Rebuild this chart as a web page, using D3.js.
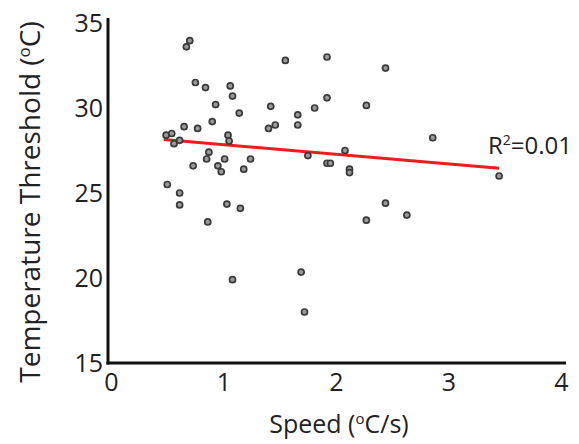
<!DOCTYPE html>
<html lang="en">
<head>
  <meta charset="UTF-8">
  <title>Speed vs Temperature Threshold</title>
  <script src="https://d3js.org/d3.v7.min.js"></script>
  <style>
    * { margin: 0; padding: 0; box-sizing: border-box; }
    body { background: white; font-family: "Open Sans", sans-serif; }
  </style>
</head>
<body>
  <div id="chart"></div>
  <script>
    // data
    const speed = [0.70, 0.67, 1.55, 1.92, 0.75, 0.84, 1.06, 1.08, 1.92, 0.93,
                   1.42, 1.81, 1.14, 1.66, 0.90, 0.65, 0.77, 1.66, 1.46, 1.40,
                   0.49, 0.54, 0.61, 0.56, 1.04, 1.05, 2.08, 0.87, 1.75, 0.73,
                   0.85, 1.01, 1.24, 0.95, 0.98, 1.18, 1.92, 1.95, 0.50, 0.61,
                   0.61, 1.03, 1.15, 0.86, 1.08, 1.69, 1.72, 2.44, 2.27, 2.86,
                   2.12, 2.12, 3.45, 2.44, 2.63, 2.27];
    const threshold = [33.96, 33.6, 32.8, 33.0, 31.5, 31.2, 31.3, 30.7, 30.6, 30.2,
                       30.1, 30.0, 29.7, 29.6, 29.2, 28.9, 28.8, 29.0, 29.0, 28.8,
                       28.4, 28.5, 28.1, 27.9, 28.4, 28.06, 27.5, 27.4, 27.2, 26.6,
                       27.0, 27.0, 27.0, 26.6, 26.25, 26.4, 26.75, 26.75, 25.5, 25.0,
                       24.3, 24.35, 24.1, 23.3, 19.9, 20.35, 18.0, 32.35, 30.15, 28.25,
                       26.4, 26.2, 26.0, 24.4, 23.7, 23.4];
    const fitX = [0.47, 3.45];
    const fitY = [28.15, 26.45];
    const xTicks = [0, 1, 2, 3, 4];
    const yTicks = [15, 20, 25, 30, 35];

    const data = speed.map((s, i) => ({ s: s, t: threshold[i] }));

    const W = 579, H = 444;
    const svg = d3.select("#chart").append("svg")
      .attr("width", W).attr("height", H);

    const x = d3.scaleLinear().domain([0, 4]).range([111, 561]);
    const y = d3.scaleLinear().domain([15, 35]).range([363, 23]);

    // axis lines
    svg.append("line")
      .attr("x1", 108).attr("x2", 108)
      .attr("y1", y(35) - 5).attr("y2", y(15) + 1.5)
      .attr("stroke", "#111").attr("stroke-width", 3);
    svg.append("line")
      .attr("x1", 106.5).attr("x2", x(4) + 5)
      .attr("y1", y(15)).attr("y2", y(15))
      .attr("stroke", "#111").attr("stroke-width", 3);

    const xAxis = svg.append("g")
      .attr("transform", `translate(0,${y(15)})`)
      .call(d3.axisBottom(x).tickValues(xTicks).tickSize(0).tickPadding(10).tickFormat(d3.format("d")));
    xAxis.select(".domain").remove();
    xAxis.selectAll("text")
      .attr("font-family", "Open Sans").attr("font-size", 25).attr("fill", "#222");

    const yAxis = svg.append("g")
      .attr("transform", `translate(108,0)`)
      .call(d3.axisLeft(y).tickValues(yTicks).tickSize(0).tickPadding(5).tickFormat(d3.format("d")));
    yAxis.select(".domain").remove();
    yAxis.selectAll("text")
      .attr("font-family", "Open Sans").attr("font-size", 25).attr("fill", "#222");

    // axis titles
    const xt = svg.append("text")
      .attr("x", 339).attr("y", 433)
      .attr("text-anchor", "middle")
      .attr("font-size", 25).attr("fill", "#222");
    xt.append("tspan").text("Speed (");
    xt.append("tspan").attr("font-size", 15).attr("dy", -9).text("o");
    xt.append("tspan").attr("dy", 9).text("C/s)");

    const yt = svg.append("text")
      .attr("transform", "translate(40,202) rotate(-90)")
      .attr("text-anchor", "middle")
      .attr("font-size", 28).attr("fill", "#222");
    yt.append("tspan").text("Temperature Threshold (");
    yt.append("tspan").attr("font-size", 17).attr("dy", -10).text("o");
    yt.append("tspan").attr("dy", 10).text("C)");

    // regression line
    svg.append("line")
      .attr("x1", x(fitX[0])).attr("y1", y(fitY[0]))
      .attr("x2", x(fitX[1])).attr("y2", y(fitY[1]))
      .attr("stroke", "#ee1c1c").attr("stroke-width", 3);

    // points
    svg.selectAll(".pt")
      .data(data)
      .enter()
      .append("circle")
      .attr("class", "pt")
      .attr("cx", d => x(d.s))
      .attr("cy", d => y(d.t))
      .attr("r", 3)
      .attr("fill", "#9a9a9a")
      .attr("stroke", "#3a3a3a")
      .attr("stroke-width", 1.7);

    // R squared label
    const r2 = svg.append("text")
      .attr("x", 488).attr("y", 154)
      .attr("font-size", 24).attr("fill", "#222");
    r2.append("tspan").text("R");
    r2.append("tspan").attr("font-size", 14).attr("dy", -9).text("2");
    r2.append("tspan").attr("dy", 9).text("=0.01");
  </script>
</body>
</html>
